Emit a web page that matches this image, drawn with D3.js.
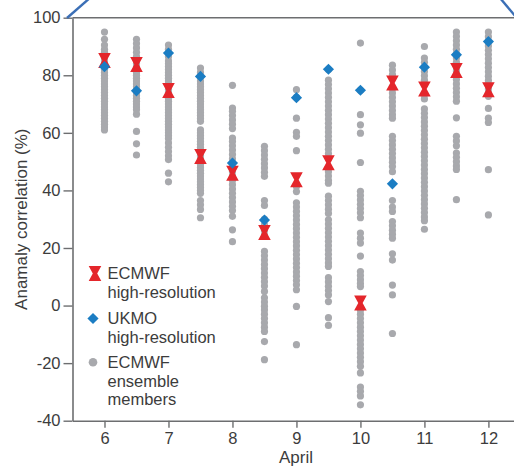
<!DOCTYPE html>
<html>
<head>
<meta charset="utf-8">
<script src="https://d3js.org/d3.v7.min.js"></script>
<style>
  body { margin: 0; background: #fff; }
  text { font-family: "Liberation Sans", Arial, sans-serif; }
</style>
</head>
<body>
<script>
// forecast days (April) - 12 h steps
var days = [6, 6.5, 7, 7.5, 8, 8.5, 9, 9.5, 10, 10.5, 11, 11.5, 12];

// ECMWF high-resolution (%)
var ecmwfHires = [85.1, 83.7, 74.7, 51.8, 46, 25.4, 43.7, 49.6, 0.9, 77.3, 75.2, 81.7, 75];

// UKMO high-resolution (%)
var ukmoHires = [83, 74.6, 87.7, 79.6, 49.5, 29.7, 72.2, 82.1, 74.8, 42.3, 82.8, 87.1, 91.7];

// ECMWF ensemble members, one list per day
var ensembleMembers = [
  [95, 92.5, 90.5, 89, 88, 87, 86, 85, 84, 83, 82, 81, 80, 79, 78, 77, 76, 75, 74, 73, 72, 71, 70, 69, 68, 67, 66, 65, 64, 63, 62, 61],
  [92.5, 91, 89.5, 88, 86.5, 85, 84, 83, 82, 81, 80, 79, 78, 77, 76, 75, 74, 73, 72, 71, 70, 69, 68, 66.5, 60.5, 56.2, 52.3],
  [90.5, 89, 88, 86.5, 85, 84, 83, 82, 81, 80, 79, 78, 77, 76, 75, 74, 73, 72, 71, 70, 69, 68, 67, 66, 65, 64, 63, 62, 61, 60, 59, 58, 56.5, 55, 53.5, 52, 50.7, 46, 43],
  [82.5, 81, 79.5, 78, 77, 76, 75, 74, 73, 72, 71, 70, 69, 68, 67, 66, 65, 64, 61, 60, 59, 58, 57, 56, 55, 54, 53, 52, 51, 50, 49, 48, 47, 46, 45, 44, 43, 42, 41, 40, 39, 36.5, 35, 33.4, 30.5],
  [76.5, 68.6, 67.5, 66, 64.5, 63, 61.5, 58.2, 57, 55.5, 54, 52.5, 51, 49.5, 48, 46.5, 45, 43.5, 42, 40.5, 39, 37.5, 36, 34.5, 33, 31, 26.3, 22.2],
  [55.3, 53.8, 52.3, 50.8, 49.3, 47.8, 46.3, 44.9, 36.5, 34.8, 30, 28, 26, 24.5, 18.8, 17.3, 15.8, 14.3, 12.8, 11.3, 9.8, 8.3, 6.8, 4.9, 2.7, 1.2, -0.2, -1.5, -3, -4.5, -6, -7.5, -9, -12.5, -18.8],
  [75, 72.3, 65.1, 60.2, 58.8, 53.8, 41.4, 39.6, 35.7, 34.2, 32.7, 31.2, 29.7, 28.2, 26.7, 25.2, 23.7, 22.2, 20.7, 19.2, 17.7, 16.2, 14.7, 13.2, 11.7, 10.2, 8.7, 7.2, 5.5, -0.3, -13.6],
  [82, 78.3, 76.8, 75.3, 73.8, 72.3, 70.8, 69.3, 67.8, 66.3, 64.8, 63.3, 61.8, 60.3, 58.8, 57.3, 55.8, 54.3, 52.8, 51.3, 48, 46.5, 45, 43.5, 42.5, 38, 36.5, 35, 33.5, 32, 29.8, 28.3, 26.8, 25.3, 23.8, 22.3, 20.8, 19.3, 17.8, 16.3, 14.8, 13.6, 9.7, 8.2, 6.7, 5.2, 3.7, 1.4, -4.2, -6.9],
  [91.2, 74.8, 66.3, 62.8, 59.9, 49.7, 39.7, 38.2, 36.7, 35.2, 33.7, 32.2, 30.5, 25.2, 23.4, 21.7, 17.2, 11.8, 10.4, 9, 7.7, 6.6, -1.5, -3, -4.5, -6, -7.5, -9, -10.5, -12, -13.5, -15, -16.5, -18, -19.5, -21.1, -23.4, -28.3, -29.8, -31.4, -34.5],
  [83.5, 81.8, 80.2, 75.3, 73.8, 72.3, 70.8, 69.3, 67.8, 66.3, 65.1, 58.8, 57.3, 55.8, 54.3, 52.8, 51.3, 49.8, 48.3, 46.5, 36.5, 34.2, 32.7, 29.2, 27.7, 26.2, 24.8, 23.4, 18, 15.8, 7.1, 3.7, -9.7],
  [90, 86, 84.5, 81.3, 79.8, 78.3, 76.8, 73.3, 71.8, 68.3, 66.8, 65.3, 63.8, 62.3, 60.8, 59.3, 57.8, 56.3, 54.8, 53.3, 51.8, 50.3, 48.8, 47.3, 45.8, 44.3, 42.8, 41.3, 39.8, 38.3, 36.8, 35.3, 33.8, 32.3, 30.8, 29.5, 26.5],
  [95, 93.5, 92, 90.5, 89, 87.5, 86, 84.5, 83, 81.5, 80, 78.5, 77, 75.5, 74, 72.5, 71, 65.2, 58.8, 57.2, 55.5, 53, 51.5, 50, 48.5, 47.3, 36.8],
  [95, 93.4, 91.8, 90.2, 88.7, 87.2, 85.7, 84.2, 82.7, 81.2, 79.7, 78.2, 76.7, 75.2, 73.9, 72.7, 68.5, 65.1, 63.6, 47.2, 31.5]
];

var yTicks = [-40, -20, 0, 20, 40, 60, 80, 100];
var xTicks = [6, 7, 8, 9, 10, 11, 12];

var legendItems = [
  { kind: "ecmwf", lines: ["ECMWF", "high-resolution"] },
  { kind: "ukmo", lines: ["UKMO", "high-resolution"] },
  { kind: "ens", lines: ["ECMWF", "ensemble", "members"] }
];

//Width and height
var w = 514;
var h = 468;

var grey = "#a8a9ad";
var red = "#e4262b";
var blue = "#1b7dc3";
var axisColor = "#6d6e70";
var textColor = "#3c3c3c";

var x = d3.scaleLinear().domain([5.5, 12.4]).range([72.5, 514]);
var y = d3.scaleLinear().domain([-40, 100]).range([420.7, 17.7]);

var svg = d3.select("body")
      .append("svg")
      .attr("width", w)
      .attr("height", h);

// hourglass and diamond shapes
var hourglass = "M-6.3,-7.5L6.3,-7.5L2.2,0L6.3,7.5L-6.3,7.5L-2.2,0Z";
var diamond = "M0,-5.6L5.6,0L0,5.6L-5.6,0Z";

// flatten ensemble points
var ensPoints = [];
ensembleMembers.forEach(function(list, i) {
  list.forEach(function(v) { ensPoints.push({ day: days[i], value: v }); });
});

svg.append("g")
   .selectAll("circle")
   .data(ensPoints)
   .enter()
   .append("circle")
   .attr("cx", function(d) { return x(d.day); })
   .attr("cy", function(d) { return y(d.value); })
   .attr("r", 3.6)
   .attr("fill", grey);

svg.append("g")
   .selectAll("path")
   .data(ecmwfHires)
   .enter()
   .append("path")
   .attr("d", hourglass)
   .attr("transform", function(d, i) { return "translate(" + x(days[i]) + "," + y(d) + ")"; })
   .attr("fill", red);

svg.append("g")
   .selectAll("path")
   .data(ukmoHires)
   .enter()
   .append("path")
   .attr("d", diamond)
   .attr("transform", function(d, i) { return "translate(" + x(days[i]) + "," + y(d) + ")"; })
   .attr("fill", blue);

// axes
var plainFormat = function(d) { return String(d); };

var yAxis = svg.append("g")
   .attr("transform", "translate(" + x.range()[0] + ",0)")
   .call(d3.axisLeft(y).tickValues(yTicks).tickFormat(plainFormat)
         .tickSize(9).tickPadding(3).tickSizeOuter(0));

var xAxis = svg.append("g")
   .attr("transform", "translate(0," + y.range()[0] + ")")
   .call(d3.axisBottom(x).tickValues(xTicks).tickFormat(plainFormat)
         .tickSize(7).tickPadding(5).tickSizeOuter(0));

[yAxis, xAxis].forEach(function(a) {
  a.select(".domain").attr("stroke", axisColor).attr("stroke-width", 1.6);
  a.selectAll(".tick line").attr("stroke", axisColor).attr("stroke-width", 1.4);
  a.selectAll(".tick text")
   .attr("fill", textColor)
   .attr("font-size", "16.5px")
   .attr("font-family", "'Liberation Sans', Arial, sans-serif");
});

// top frame line
svg.append("line")
   .attr("x1", x.range()[0]).attr("x2", w)
   .attr("y1", y(100)).attr("y2", y(100))
   .attr("stroke", axisColor)
   .attr("stroke-width", 1.6);

// axis titles
svg.append("text")
   .text("Anamaly correlation (%)")
   .attr("transform", "translate(27," + ((y.range()[0] + y.range()[1]) / 2) + ") rotate(-90)")
   .attr("text-anchor", "middle")
   .attr("font-size", "17px")
   .attr("fill", textColor);

svg.append("text")
   .text("April")
   .attr("x", 296)
   .attr("y", 463)
   .attr("text-anchor", "middle")
   .attr("font-size", "17px")
   .attr("fill", textColor);

// legend
var legendTop = [279.3, 324.3, 368];
var lineGap = 18.6;

legendItems.forEach(function(item, i) {
  var g = svg.append("g").attr("transform", "translate(0," + legendTop[i] + ")");
  var cy = -5.8;
  if (item.kind === "ecmwf") {
    g.append("path").attr("d", hourglass).attr("transform", "translate(95," + cy + ")").attr("fill", red);
  } else if (item.kind === "ukmo") {
    g.append("path").attr("d", diamond).attr("transform", "translate(93," + cy + ")").attr("fill", blue);
  } else {
    g.append("circle").attr("cx", 93).attr("cy", cy).attr("r", 4.3).attr("fill", grey);
  }
  // one text block per entry, lines as tspans
  g.append("text")
   .attr("font-size", "16.5px")
   .attr("fill", textColor)
   .selectAll("tspan")
   .data(item.lines)
   .enter()
   .append("tspan")
   .text(function(d) { return d; })
   .attr("x", 107.5)
   .attr("y", function(d, j) { return j * lineGap; });
});

// edge of the blue magnifier circle
svg.append("path")
   .attr("d", "M67,18L91,-3")
   .attr("fill", "none")
   .attr("stroke", "#3b6fb6")
   .attr("stroke-width", 2.4);

svg.append("path")
   .attr("d", "M500,-2L516,17")
   .attr("fill", "none")
   .attr("stroke", "#3b6fb6")
   .attr("stroke-width", 2.4);
</script>
</body>
</html>
